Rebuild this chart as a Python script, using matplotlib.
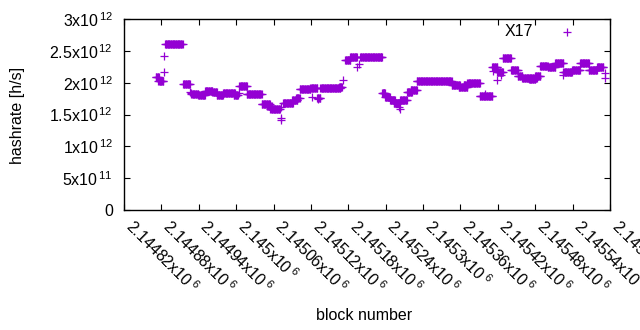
import numpy as np
import matplotlib
matplotlib.use("Agg")
import matplotlib.pyplot as plt
import matplotlib.transforms as mtransforms

plt.rcParams['font.family'] = ['Liberation Sans', 'DejaVu Sans']
plt.rcParams['mathtext.fontset'] = 'custom'
plt.rcParams['mathtext.rm'] = 'Liberation Sans'
plt.rcParams['mathtext.it'] = 'Liberation Sans'

# runs of blocks with (nearly) constant hashrate estimate
run_start = [2144872, 2144875, 2144886, 2144915, 2144928, 2144939, 2144950, 2144962,
             2144969, 2144979, 2144996, 2145005, 2145017, 2145041, 2145050, 2145055,
             2145075, 2145090, 2145096, 2145102, 2145119, 2145130, 2145135, 2145165,
             2145175, 2145183, 2145199, 2145234, 2145239, 2145247, 2145253, 2145263,
             2145274, 2145280, 2145290, 2145346, 2145357, 2145365, 2145371, 2145391,
             2145411, 2145419, 2145428, 2145441, 2145452, 2145459, 2145470, 2145480,
             2145488, 2145500, 2145512, 2145525, 2145539, 2145552, 2145566, 2145579]
run_end = [2144876, 2144883, 2144914, 2144926, 2144939, 2144950, 2144962, 2144969,
           2144979, 2144998, 2145003, 2145017, 2145041, 2145054, 2145057, 2145070,
           2145091, 2145098, 2145102, 2145119, 2145130, 2145135, 2145167, 2145170,
           2145183, 2145194, 2145234, 2145239, 2145247, 2145255, 2145263, 2145274,
           2145282, 2145290, 2145346, 2145359, 2145371, 2145371, 2145391, 2145411,
           2145419, 2145428, 2145441, 2145452, 2145459, 2145483, 2145480, 2145488,
           2145500, 2145512, 2145525, 2145539, 2145552, 2145566, 2145579, 2145589]
run_value = [2.09e12, 2.03e12, 2.60e12, 1.98e12, 1.82e12, 1.80e12, 1.87e12, 1.85e12,
             1.80e12, 1.83e12, 1.81e12, 1.94e12, 1.82e12, 1.66e12, 1.63e12, 1.59e12,
             1.68e12, 1.72e12, 1.76e12, 1.90e12, 1.92e12, 1.76e12, 1.91e12, 1.93e12,
             2.35e12, 2.40e12, 2.40e12, 1.84e12, 1.78e12, 1.73e12, 1.68e12, 1.73e12,
             1.85e12, 1.88e12, 2.02e12, 1.97e12, 1.93e12, 1.96e12, 2.00e12, 1.79e12,
             2.24e12, 2.17e12, 2.38e12, 2.20e12, 2.11e12, 2.07e12, 2.05e12, 2.10e12,
             2.26e12, 2.24e12, 2.31e12, 2.16e12, 2.20e12, 2.31e12, 2.20e12, 2.24e12]

# isolated blocks
single_block = [2144871, 2144884, 2144884, 2144926, 2144928, 2145004, 2145072, 2145072,
                2145072, 2145121, 2145132, 2145172, 2145194, 2145197, 2145233, 2145238,
                2145262, 2145263, 2145400, 2145412, 2145419, 2145425, 2145525, 2145592,
                2145592]
single_value = [2.09e12, 2.16e12, 2.42e12, 1.86e12, 1.84e12, 1.84e12, 1.45e12, 1.41e12,
                1.62e12, 1.78e12, 1.74e12, 2.04e12, 2.25e12, 2.29e12, 2.40e12, 1.84e12,
                1.61e12, 1.59e12, 1.82e12, 2.18e12, 2.04e12, 2.12e12, 2.12e12, 2.15e12,
                2.08e12]

x_ticks = [2144820 + 60 * i for i in range(14)]
x_tick_labels = ['2.14482', '2.14488', '2.14494', '2.145', '2.14506', '2.14512', '2.14518',
                 '2.14524', '2.1453', '2.14536', '2.14542', '2.14548', '2.14554', '2.1456']
y_ticks = [0, 0.5e12, 1.0e12, 1.5e12, 2.0e12, 2.5e12, 3.0e12]
y_tick_labels = ['0', r'5x10$^{\,11}$', r'1x10$^{\,12}$', r'1.5x10$^{\,12}$',
                 r'2x10$^{\,12}$', r'2.5x10$^{\,12}$', r'3x10$^{\,12}$']

xs, ys = [], []
for s, e, v in zip(run_start, run_end, run_value):
    b = np.arange(s, e + 1)
    xs.append(b)
    ys.append(np.full(len(b), v))
xs.append(np.array(single_block))
ys.append(np.array(single_value))
x = np.concatenate(xs)
y = np.concatenate(ys)

color = '#9400D3'
fs = 11.5
fig = plt.figure(figsize=(6.4, 3.3), dpi=100)
ax = fig.add_axes([124 / 640, 1 - 210 / 330, 486 / 640, 191 / 330])
ax.plot(x, y, linestyle='none', marker='+', ms=5.2, mew=0.9, color=color)

ax.set_xlim(2144820, 2145600)
ax.set_ylim(0, 3e12)
ax.set_xticks(x_ticks)
ax.set_xticklabels([l + r'x10$^{\;6}$' for l in x_tick_labels], rotation=-45,
                   ha='left', va='baseline', rotation_mode='anchor', fontsize=fs)
offset = mtransforms.ScaledTranslation(-4 / 100, 0, fig.dpi_scale_trans)
for lab in ax.get_xticklabels():
    lab.set_transform(lab.get_transform() + offset)
ax.set_yticks(y_ticks)
ax.set_yticklabels(y_tick_labels, fontsize=fs)
ax.tick_params(direction='in', length=4.5, width=0.8, top=True, right=True)
ax.tick_params(axis='y', pad=8)
ax.tick_params(axis='x', pad=13)
for sp in ax.spines.values():
    sp.set_linewidth(1.0)

ax.set_ylabel('hashrate [h/s]', fontsize=fs)
ax.set_xlabel('block number', fontsize=fs)
ax.xaxis.set_label_coords((364 - 124) / 486, (210 - 308) / 191)
ax.yaxis.set_label_coords((25 - 124) / 486, (210 - 115) / 191)

ax.text((533 - 124) / 486, (210 - 32) / 191, 'X17', transform=ax.transAxes,
        ha='right', va='center', fontsize=fs)
ax.plot([(567 - 124) / 486], [(210 - 32) / 191], transform=ax.transAxes,
        marker='+', ms=5.2, mew=0.9, color=color, linestyle='none')

fig.savefig('out.png', dpi=100)
